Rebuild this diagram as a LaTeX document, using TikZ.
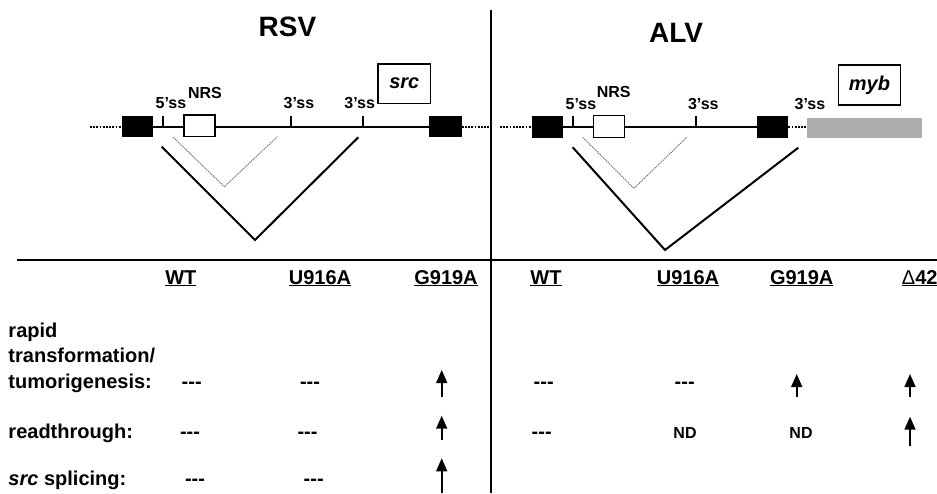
\documentclass[tikz,border=0pt]{standalone}
\usepackage{fontspec}
\setmainfont{Liberation Sans}
\usetikzlibrary{arrows.meta}
\newcommand\dsh{\mbox{-}\mbox{-}\mbox{-}}
\begin{document}
\begin{tikzpicture}[x=1pt,y=-1pt,
  ttl/.style={font=\bfseries\fontsize{28}{32}\selectfont, inner sep=0pt, anchor=base},
  lbl/.style={font=\bfseries\fontsize{16}{18}\selectfont, inner sep=0pt, anchor=base},
  txt/.style={font=\bfseries\fontsize{20}{24}\selectfont, inner sep=0pt, anchor=base},
  rowlbl/.style={txt, anchor=base west},
  rulel/.style={line width=1.5pt, black},
  gene/.style={line width=2.2pt, black},
  dotl/.style={line width=2.4pt, black, dash pattern=on 1.8pt off 1.4pt},
  exon/.style={fill=black},
  sstick/.style={line width=1.8pt, black},
  nrsbox/.style={draw=black, line width=1.2pt, fill=white},
  genebox/.style={draw=black, line width=1.3pt, fill=white, inner sep=0pt,
    font=\bfseries\itshape\fontsize{20}{24}\selectfont},
  splice/.style={line width=2pt, black},
  altsplice/.style={line width=1.1pt, gray, dash pattern=on 1.3pt off 0.9pt},
  uparrow/.style={line width=1.6pt, black, -{Triangle[width=11pt,length=13pt]}}
]
\useasboundingbox (0,0) rectangle (937,493);
\fill[white] (0,0) rectangle (937,493);

% titles
\node[ttl] (rsv) at (287.5,36) {RSV};
\node[ttl] (alv) at (676,42.3) {ALV};

% dividers
\draw[rulel] (491,10) -- (491,493);
\draw[rulel] (17,260) -- (937,260);

% ---------------- RSV gene ----------------
\draw[dotl] (90,126.7) -- (121.7,126.7);
\draw[dotl] (461.7,126.7) -- (490,126.7);
\draw[gene] (153.3,126.7) -- (429.3,126.7);
\fill[exon] (121.7,115.7) rectangle (153.3,137.3);
\fill[exon] (429.3,115.7) rectangle (461.7,137.3);
\draw[sstick] (163.3,116) -- (163.3,126.7);
\draw[sstick] (290.7,116) -- (290.7,126.7);
\draw[sstick] (362.7,116) -- (362.7,126.7);
\draw[nrsbox] (184,115) rectangle (215,136.7);
\node[lbl] (r5ss) at (171,108.3) {5’ss};
\node[lbl] (rnrs) at (205,98.3) {NRS};
\node[lbl] (r3ssa) at (299,108.3) {3’ss};
\node[lbl] (r3ssb) at (359.7,108.3) {3’ss};
\node[genebox, minimum width=52.7pt, minimum height=39.3pt] (src) at (404.3,83.7) {src};
\draw[altsplice] (173.3,137.3) -- (224.3,186.7) -- (277.3,136.7);
\draw[splice] (161.7,146.7) -- (255,240) -- (358.3,137.3);

% ---------------- ALV gene ----------------
\draw[dotl] (500,126.7) -- (531.7,126.7);
\draw[dotl] (788.3,126.7) -- (806.7,126.7);
\draw[gene] (563.3,126.7) -- (756.7,126.7);
\fill[exon] (531.7,116) rectangle (563.3,137.7);
\fill[exon] (756.7,116) rectangle (788.3,137.7);
\fill[gray!65] (806.7,117.7) rectangle (921.7,138.3);
\draw[sstick] (573.3,116) -- (573.3,126.7);
\draw[sstick] (696,116) -- (696,126.7);
\draw[nrsbox] (593.3,115.7) rectangle (624.3,137.3);
\node[lbl] (a5ss) at (581,109) {5’ss};
\node[lbl] (anrs) at (613.7,97.5) {NRS};
\node[lbl] (a3ssa) at (703.3,109) {3’ss};
\node[lbl] (a3ssb) at (810,109) {3’ss};
\node[genebox, minimum width=62.4pt, minimum height=40pt] (myb) at (869.5,85) {myb};
\draw[altsplice] (582.7,137.3) -- (634,188.3) -- (686.7,137.3);
\draw[splice] (572.7,147.3) -- (665,250) -- (798.3,147.7);

% ---------------- column headers ----------------
\node[txt] (hwt1) at (180.8,284) {\underline{WT}};
\node[txt] (hu1) at (320,284) {\underline{U916A}};
\node[txt] (hg1) at (446,284) {\underline{G919A}};
\node[txt] (hwt2) at (546,284) {\underline{WT}};
\node[txt] (hu2) at (688,284) {\underline{U916A}};
\node[txt] (hg2) at (801.7,284) {\underline{G919A}};
\node[txt, anchor=base west] (hd2) at (901.7,284) {\underline{{\mdseries Δ}42}};

% ---------------- row labels ----------------
\node[rowlbl] (l1a) at (8.3,337.3) {rapid};
\node[rowlbl] (l1b) at (8.3,362.7) {transformation/};
\node[rowlbl] (l1c) at (8.3,388.3) {tumorigenesis:};
\node[rowlbl] (l2) at (8.3,438.3) {readthrough:};
\node[rowlbl] (l3) at (8.3,485) {\textit{src} splicing:};

% ---------------- entries ----------------
\node[txt] (d11) at (191.7,388.3) {\dsh};
\node[txt] (d12) at (310,388.3) {\dsh};
\node[txt] (d14) at (543.7,388.3) {\dsh};
\node[txt] (d15) at (684.7,388.3) {\dsh};
\node[txt] (d21) at (190,438.3) {\dsh};
\node[txt] (d22) at (307.5,438.3) {\dsh};
\node[txt] (d24) at (541.7,438.3) {\dsh};
\node[txt, font=\bfseries\fontsize{16}{18}\selectfont] (nd25) at (685,438.3) {ND};
\node[txt, font=\bfseries\fontsize{16}{18}\selectfont] (nd26) at (801,438.3) {ND};
\node[txt] (d31) at (195,485) {\dsh};
\node[txt] (d32) at (313.7,485) {\dsh};

% arrows
\coordinate (a13b) at (441.7,396.7); \coordinate (a13t) at (441.7,370);
\coordinate (a23b) at (441.7,440);   \coordinate (a23t) at (441.7,415.7);
\coordinate (a33b) at (441.7,493);   \coordinate (a33t) at (441.7,458.3);
\coordinate (a16b) at (796.7,396.7); \coordinate (a16t) at (796.7,374);
\coordinate (a17b) at (910,396.7);   \coordinate (a17t) at (910,374);
\coordinate (a27b) at (910,446);     \coordinate (a27t) at (910,416.7);
\draw[uparrow] (a13b) -- (a13t);
\draw[uparrow] (a23b) -- (a23t);
\draw[uparrow] (a33b) -- (a33t);
\draw[uparrow] (a16b) -- (a16t);
\draw[uparrow] (a17b) -- (a17t);
\draw[uparrow] (a27b) -- (a27t);
\end{tikzpicture}
\end{document}
